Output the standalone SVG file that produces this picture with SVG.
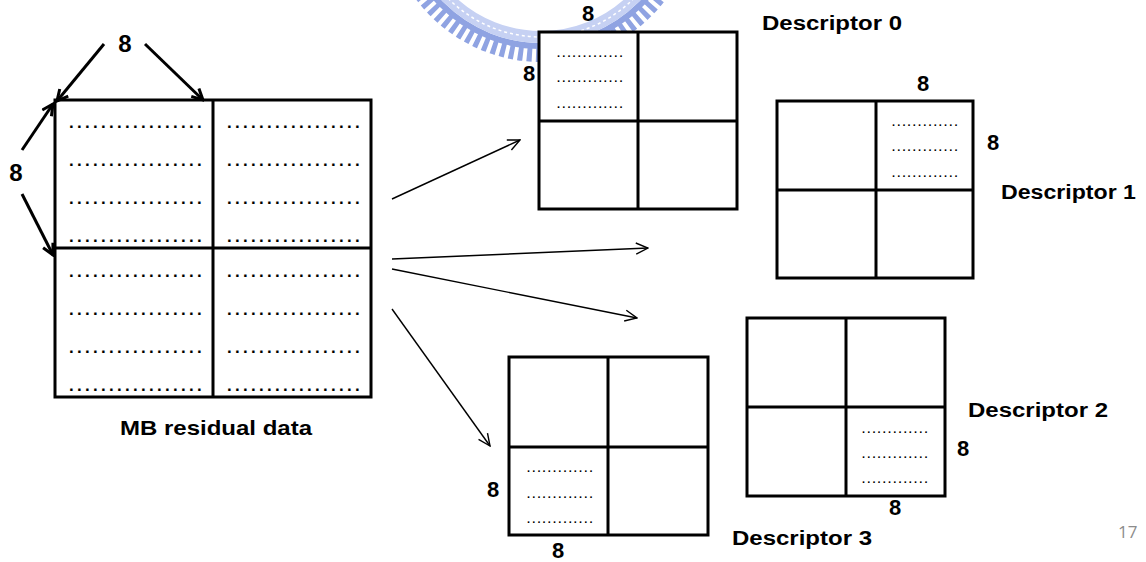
<svg xmlns="http://www.w3.org/2000/svg" width="1146" height="562" viewBox="0 0 1146 562">
<defs>
<marker id="thick" viewBox="0 0 14 14" refX="12" refY="7" markerWidth="14" markerHeight="14" markerUnits="userSpaceOnUse" orient="auto">
<path d="M1,1.5 L12,7 L1,12.5" fill="none" stroke="#000" stroke-width="3"/>
</marker>
<marker id="thin" viewBox="0 0 14 14" refX="13" refY="7" markerWidth="14" markerHeight="14" markerUnits="userSpaceOnUse" orient="auto">
<path d="M1,1.5 L13,7 L1,12.5" fill="none" stroke="#000" stroke-width="1.4"/>
</marker>
</defs>
<style>
.box{fill:#fff;stroke:#000;stroke-width:3}
.div{stroke:#000;stroke-width:3}
.lbl{font-family:"Liberation Sans",Arial,sans-serif;font-weight:bold;fill:#000}
.n8{font-family:"Liberation Sans",Arial,sans-serif;font-weight:bold;font-size:22px;fill:#000;text-anchor:middle}
.n8b{font-family:"Liberation Sans",Arial,sans-serif;font-weight:bold;font-size:24px;fill:#000;text-anchor:middle}
.dots{font-family:"Liberation Sans",Arial,sans-serif;font-weight:bold;font-size:17px;letter-spacing:3.27px;fill:#000}
.sdots{font-family:"Liberation Sans",Arial,sans-serif;font-weight:bold;font-size:11px;letter-spacing:2.15px;fill:#000}
.thk{stroke:#000;stroke-width:3;fill:none;marker-end:url(#thick)}
.thn{stroke:#000;stroke-width:1.4;fill:none;marker-end:url(#thin)}
</style>
<rect width="1146" height="562" fill="#fff"/>
<g id="watermark" fill="none">
<circle cx="541" cy="-94" r="149" stroke="#8fa3e2" stroke-width="14" stroke-dasharray="5 4"/>
<circle cx="541" cy="-94" r="140" stroke="#8fa3e2" stroke-width="6"/>
<circle cx="541" cy="-94" r="131" stroke="#c6d1f3" stroke-width="12"/>
<circle cx="541" cy="-94" r="131" stroke="#fff" stroke-width="1.5" stroke-dasharray="3 3"/>
</g>
<g id="mb">
<rect class="box" x="55" y="100" width="316" height="297"/>
<line class="div" x1="213" y1="100" x2="213" y2="397"/>
<line class="div" x1="55" y1="248" x2="371" y2="248"/>
<g class="dots">
<text x="69" y="128">.................</text><text x="227" y="128">.................</text>
<text x="69" y="166">.................</text><text x="227" y="166">.................</text>
<text x="69" y="204">.................</text><text x="227" y="204">.................</text>
<text x="69" y="242">.................</text><text x="227" y="242">.................</text>
<text x="69" y="277">.................</text><text x="227" y="277">.................</text>
<text x="69" y="315">.................</text><text x="227" y="315">.................</text>
<text x="69" y="353">.................</text><text x="227" y="353">.................</text>
<text x="69" y="391">.................</text><text x="227" y="391">.................</text>
</g>
<text class="lbl" x="120" y="435" font-size="21" textLength="192" lengthAdjust="spacingAndGlyphs">MB residual data</text>
<text class="n8b" x="125" y="52">8</text>
<text class="n8b" x="16" y="181">8</text>
</g>
<g id="desc0">
<rect class="box" x="539" y="32" width="198" height="177"/>
<line class="div" x1="638" y1="32" x2="638" y2="209"/>
<line class="div" x1="539" y1="121" x2="737" y2="121"/>
<g class="sdots"><text x="557" y="57">.............</text><text x="557" y="82">.............</text><text x="557" y="108">.............</text></g>
<text class="n8" x="588" y="21">8</text>
<text class="n8" x="529" y="81">8</text>
<text class="lbl" x="762" y="30" font-size="20" textLength="140" lengthAdjust="spacingAndGlyphs">Descriptor 0</text>
</g>
<g id="desc1">
<rect class="box" x="777" y="101" width="196" height="177"/>
<line class="div" x1="876" y1="101" x2="876" y2="278"/>
<line class="div" x1="777" y1="190" x2="973" y2="190"/>
<g class="sdots"><text x="892" y="126">.............</text><text x="892" y="151">.............</text><text x="892" y="177">.............</text></g>
<text class="n8" x="923" y="91">8</text>
<text class="n8" x="993" y="150">8</text>
<text class="lbl" x="1001" y="199" font-size="20" textLength="135" lengthAdjust="spacingAndGlyphs">Descriptor 1</text>
</g>
<g id="desc2">
<rect class="box" x="747" y="318" width="198" height="178"/>
<line class="div" x1="846" y1="318" x2="846" y2="496"/>
<line class="div" x1="747" y1="407" x2="945" y2="407"/>
<g class="sdots"><text x="862" y="433">.............</text><text x="862" y="458">.............</text><text x="862" y="483">.............</text></g>
<text class="n8" x="963" y="456">8</text>
<text class="n8" x="895" y="515">8</text>
<text class="lbl" x="968" y="417" font-size="20" textLength="140" lengthAdjust="spacingAndGlyphs">Descriptor 2</text>
</g>
<g id="desc3">
<rect class="box" x="509" y="357" width="199" height="178"/>
<line class="div" x1="608" y1="357" x2="608" y2="535"/>
<line class="div" x1="509" y1="447" x2="708" y2="447"/>
<g class="sdots"><text x="527" y="472">.............</text><text x="527" y="498">.............</text><text x="527" y="523">.............</text></g>
<text class="n8" x="493" y="497">8</text>
<text class="n8" x="558" y="558">8</text>
<text class="lbl" x="732" y="545" font-size="20" textLength="140" lengthAdjust="spacingAndGlyphs">Descriptor 3</text>
</g>
<g id="connectors">
<line class="thk" x1="104" y1="44" x2="57" y2="101"/>
<line class="thk" x1="145" y1="44" x2="203" y2="100"/>
<line class="thk" x1="22" y1="150" x2="53" y2="104"/>
<line class="thk" x1="22" y1="194" x2="53" y2="255"/>
<line class="thn" x1="392" y1="199" x2="520" y2="140"/>
<line class="thn" x1="392" y1="259" x2="648" y2="248"/>
<line class="thn" x1="392" y1="269" x2="637" y2="318"/>
<line class="thn" x1="392" y1="309" x2="490" y2="446"/>
</g>
<text x="1118" y="538" font-family="'Open Sans','Liberation Sans',sans-serif" font-size="17" fill="#8c8c8c">17</text>
</svg>
